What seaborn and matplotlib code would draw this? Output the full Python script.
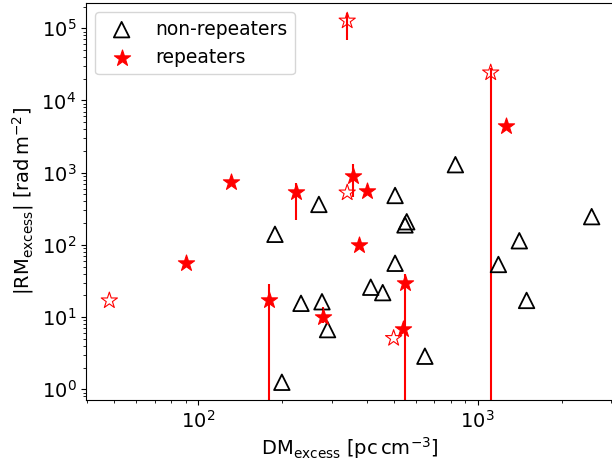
import numpy as np
import pandas as pd
import matplotlib
matplotlib.use("Agg")
import matplotlib.pyplot as plt
import seaborn as sns

# ---------------- data ----------------
nonrep_dm = [188, 199, 233, 277, 290, 270, 506, 557, 549, 506, 414, 457,
             832, 1409, 1186, 1496, 2558, 647]
nonrep_rm = [140, 1.25, 15.5, 16.3, 6.7, 363, 483, 209, 189, 55.6, 25.9, 21.8,
             1290, 114, 53.5, 17.0, 246, 2.87]

rep_dm = [90.3, 131, 223, 179.5, 278.6, 359, 403, 375, 549.6, 539, 1262]
rep_rm = [55.6, 750, 545, 17.3, 10.1, 900, 563, 99.7, 29.9, 6.84, 4435]
rep_rm_lo = [55.6, 750, 221, 0.001, 8.2, 465, 563, 99.7, 0.001, 6.84, 4435]
rep_rm_hi = [55.6, 750, 713, 28.7, 13.9, 1320, 563, 99.7, 39.5, 6.84, 4435]

open_dm = [48.0, 341, 500, 341, 1113]
open_rm = [16.9, 528, 5.09, 1.27e5, 24270]
open_rm_lo = [16.9, 528, 5.09, 6.89e4, 0.001]
open_rm_hi = [16.9, 528, 5.09, 1.61e5, 28000]

# ---------------- figure ----------------
plt.rcParams['font.family'] = ['DejaVu Sans']
plt.rcParams['mathtext.fontset'] = 'dejavusans'
fig = plt.figure(figsize=(6.12, 4.61), dpi=100)
W, H = 612, 461
ax = fig.add_axes([86 / W, (H - 400) / H, (613 - 86) / W, (400 - 2.7) / H])
ax.set_xscale('log')
ax.set_yscale('log')

df_non = pd.DataFrame({'dm': nonrep_dm, 'rm': nonrep_rm})
df_rep = pd.DataFrame({'dm': rep_dm, 'rm': rep_rm,
                       'lo': rep_rm_lo, 'hi': rep_rm_hi})
df_open = pd.DataFrame({'dm': open_dm, 'rm': open_rm,
                        'lo': open_rm_lo, 'hi': open_rm_hi})

# error bars
for d in (df_rep, df_open):
    ax.errorbar(d['dm'], d['rm'],
                yerr=[d['rm'] - d['lo'], d['hi'] - d['rm']],
                fmt='none', ecolor='red', elinewidth=1.5, capsize=0, zorder=2)

TRI_S = 125
STAR_S = 150
sns.scatterplot(data=df_non, x='dm', y='rm', marker='^', s=TRI_S,
                facecolor='none', edgecolor='black', linewidth=1.3,
                ax=ax, zorder=3, label='non-repeaters')
sns.scatterplot(data=df_rep, x='dm', y='rm', marker='*', s=STAR_S,
                color='red', edgecolor='red', linewidth=0.8,
                ax=ax, zorder=3, label='repeaters')
sns.scatterplot(data=df_open, x='dm', y='rm', marker='*', s=STAR_S,
                facecolor='none', edgecolor='red', linewidth=0.8,
                ax=ax, zorder=3)

ax.set_xlim(39.6, 3050)
ax.set_ylim(0.71, 2.26e5)

ax.set_xlabel(r'$\mathrm{DM}_{\mathrm{excess}}$ [pc$\,$cm$^{-3}$]', fontsize=14,
              labelpad=2.5)
ax.set_ylabel(r'$|\mathrm{RM}_{\mathrm{excess}}|$ [rad$\,$m$^{-2}$]', fontsize=14)
ax.tick_params(axis='both', which='major', labelsize=14)

leg = ax.legend(loc='upper left', fontsize=13.5, frameon=True)
leg.legend_handles[0].set_sizes([TRI_S])
leg.legend_handles[1].set_sizes([STAR_S])

fig.savefig('out.png', dpi=100)
